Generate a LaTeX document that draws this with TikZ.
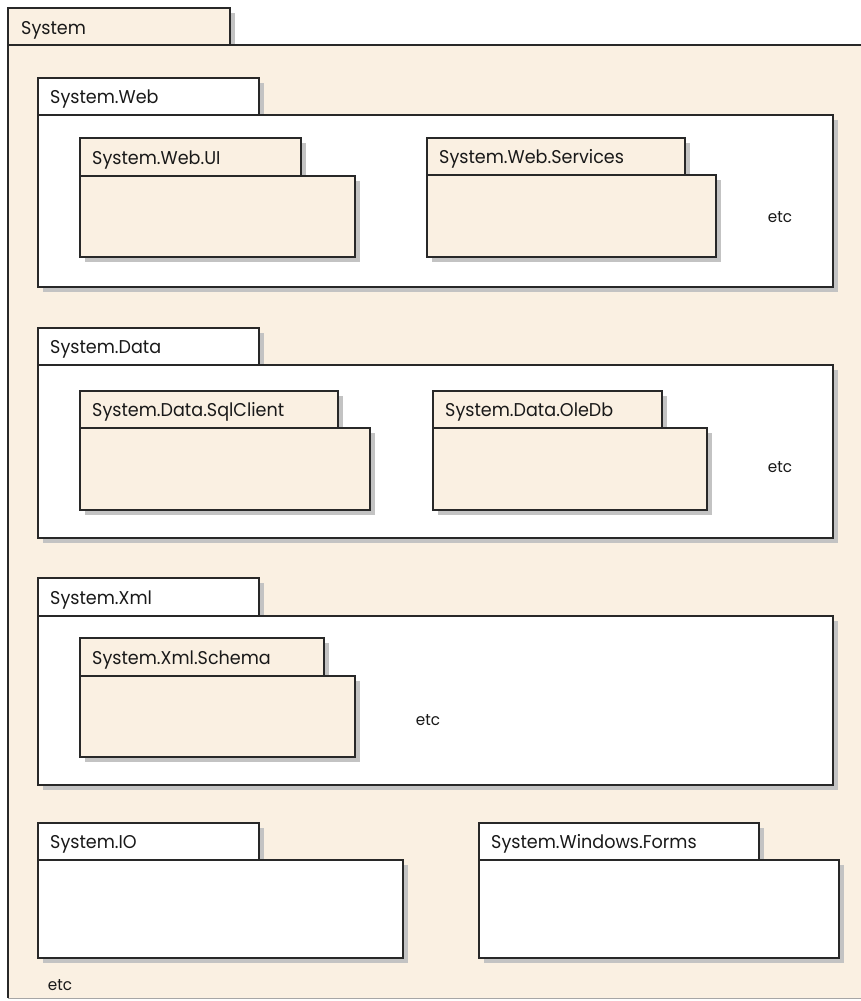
\documentclass[tikz,border=0pt]{standalone}
\usepackage{fontspec}
\setmainfont{Poppins}[FakeStretch=0.95]
\definecolor{pkgfill}{RGB}{250,240,226}
\definecolor{pkgline}{RGB}{40,40,40}
\definecolor{pkgshadow}{RGB}{195,195,195}
\tikzset{
  pkgline/.style={draw=pkgline, line width=1.6pt},
  pkgshade/.style={fill=pkgshadow},
  pkglabel/.style={anchor=base west, inner sep=0pt, font=\fontsize{18.5}{22}\selectfont, text=black!90},
  etclabel/.style={inner sep=0pt, font=\fontsize{16}{19}\selectfont, text=black!90}
}
% \umlpkg{name}{left}{tab right}{body right}{tab top}{body top}{body bottom}{fill}{label}
\newcommand{\umlpkg}[9]{%
  \fill[pkgshade] ({#2+5},{#5+5}) rectangle ({#3+5},{#6+5});
  \fill[pkgshade] ({#2+5},{#6+5}) rectangle ({#4+5},{#7+5});
  \path[pkgline, fill=#8] (#2,#5) rectangle (#3,#6);
  \path[pkgline, fill=#8] (#2,#6) rectangle (#4,#7);
  \node[pkglabel] (#1) at ({#2+12},{#6-12}) {#9};
}
\begin{document}
\begin{tikzpicture}[x=1pt, y=-1pt]
  \useasboundingbox (0,0) rectangle (860,1001);
  \fill[white] (0,0) rectangle (860,1001);
  % outer System package, running off the right edge
  \fill[pkgshade] (13,13) rectangle (235,50);
  \fill[pkgfill] (8,45) rectangle (861,998);
  \draw[pkgline, fill=pkgfill] (8,8) rectangle (230,45);
  \draw[pkgline] (861,45) -- (8,45) -- (8,998);
  \draw[draw=black!35, line width=1pt] (8,998) -- (861,998);
  \node[pkglabel] (system) at (21,34) {System};

  % System.Web
  \umlpkg{web}{38}{259}{833}{78}{115}{287}{white}{System.Web}
  \umlpkg{webui}{80}{301}{355}{138}{176}{257}{pkgfill}{System.Web.UI}
  \umlpkg{websvc}{427}{685}{716}{138}{175}{257}{pkgfill}{System.Web.Services}
  \node[etclabel] (webetc) at (780,217) {etc};

  % System.Data
  \umlpkg{data}{38}{259}{833}{328}{365}{538}{white}{System.Data}
  \umlpkg{sqlclient}{80}{338}{370}{391}{428}{510}{pkgfill}{System.Data.SqlClient}
  \umlpkg{oledb}{433}{662}{707}{391}{428}{510}{pkgfill}{System.Data.OleDb}
  \node[etclabel] (dataetc) at (780,467) {etc};

  % System.Xml
  \umlpkg{xml}{38}{259}{833}{578}{616}{785}{white}{System.Xml}
  \umlpkg{schema}{80}{324}{355}{638}{676}{757}{pkgfill}{System.Xml.Schema}
  \node[etclabel] (xmletc) at (428,720) {etc};

  % System.IO and System.Windows.Forms
  \umlpkg{io}{38}{259}{403}{823}{860}{958}{white}{System.IO}
  \umlpkg{forms}{479}{759}{839}{823}{860}{958}{white}{System.Windows.Forms}
  \node[etclabel] (sysetc) at (60,985) {etc};
\end{tikzpicture}
\end{document}
